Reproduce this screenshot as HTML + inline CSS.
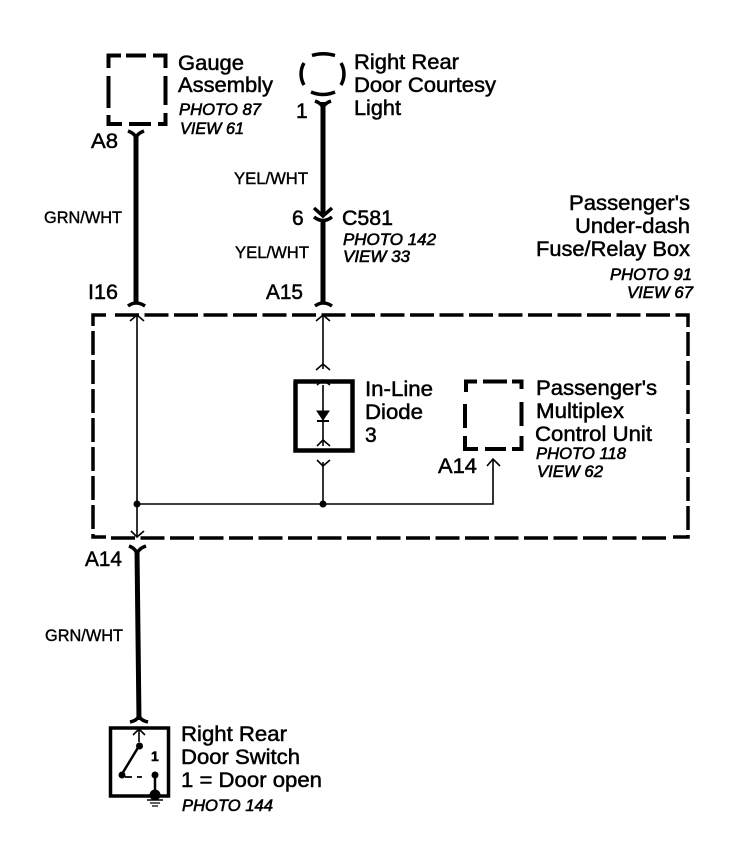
<!DOCTYPE html>
<html><head><meta charset="utf-8"><style>
html,body{margin:0;padding:0;background:#fff}
svg{display:block}
text{font-family:"Liberation Sans",Arial,sans-serif;fill:#000;stroke:#000;stroke-width:.5}
.l{font-size:21px;}
.i{font-size:16.5px;font-style:italic;stroke-width:.6}
.w{font-size:16.5px;stroke-width:.4}
</style></head><body>
<svg width="736" height="842" viewBox="0 0 736 842" xmlns="http://www.w3.org/2000/svg" fill="none" stroke="#000">
<!-- gauge box -->
<g stroke-width="4">
<path d="M121 55.500H108.500V68M108.500 76V108M108.500 115V124H122M129 124H151M158 124H165.500V113M165.500 105V76M165.500 68V55.500H153M146 55.500H126"/>
<path d="M466 392V381.500H477M483 381.500H507M512 381.500H521.500V389M521.500 402V426M521.500 436V449H512M506 449H485M478 449H465V436M465 428V404"/>
<!-- circle -->
<path d="M304 62A22 22 0 0 0 304 84" stroke-width="3.500" transform="translate(0 1)"/>
<path d="M341 62A22 22 0 0 1 341 84" stroke-width="3.500" transform="translate(0 1)"/>
<path d="M312 55.500Q323 52 335 55.500M311 92Q323 97 335 92" stroke-width="3.500"/>
</g>
<!-- outer dashed box -->
<path d="M106 315H93V537H106" stroke-width="3.500" stroke-dasharray="24 5"/>
<path d="M115 315H676" stroke-width="3.500" stroke-dasharray="24 5.500"/>
<path d="M676 315H688V537H673" stroke-width="3.500" stroke-dasharray="24 5"/>
<path d="M111 538H668" stroke-width="3.500" stroke-dasharray="24 5.500"/>
<!-- thick wires -->
<path d="M136 134V302M137 550L139 720M323 102V215M323 220V302" stroke-width="5"/>
<path d="M293.500 381.500H352.500V450.500H295.500V381.500" stroke-width="4.500"/>
<rect x="110.500" y="728" width="58" height="68" stroke-width="3.500"/>
<!-- connectors -->
<g stroke-width="3.500">
<path d="M128 131Q136 134 136 139Q136 134 144 131M315 101Q323 104 323 109Q323 104 331 101"/>
<path d="M128 306Q136 300 145 306M315 306Q323 300 332 306"/>
<path d="M314 208L323 216L332 208M314 217Q323 224 332 217"/>
<path d="M129 546Q137 549 137 556Q137 549 146 546M130 722Q139 720 139 714Q139 720 148 722"/>
</g>
<!-- thin wires -->
<g stroke-width="1.600">
<path d="M137 315V537M323 315V369M323 385V446M323 462V504M137 504H493V459"/>
<path d="M130 321L137 315L144 321M316 321L323 315L330 321M316 370L323 364L330 370M317 385L323 380L330 385M317 446L323 440L330 446M317 460L323 466L330 460M487 466L493 459L500 466M131 531L137 537L144 531M133 735L139 729L145 735"/>
</g>
<circle cx="137" cy="504" r="3.500" fill="#000" stroke="none"/>
<circle cx="323" cy="504" r="3.500" fill="#000" stroke="none"/>
<!-- diode -->
<path d="M317 411H329L323 420Z" fill="#000" stroke="#000"/>
<path d="M317 421H329" stroke-width="2"/>
<!-- switch -->
<path d="M139 730V742" stroke-width="1.600"/>
<path d="M139 746L122 774" stroke-width="2.500"/>
<circle cx="139.500" cy="746" r="3.500" fill="#000" stroke="none"/>
<circle cx="122" cy="775" r="3.500" fill="#000" stroke="none"/>
<path d="M125 777H132M137 777H142" stroke-width="1.800"/>
<circle cx="155" cy="775" r="3.500" fill="#000" stroke="none"/>
<path d="M155 775V795" stroke-width="2.500"/>
<circle cx="155" cy="795" r="5.500" fill="#000" stroke="none"/>
<path d="M147 800H163" stroke-width="1.500"/>
<path d="M150 803H160M152 806H158" stroke-width="1.200"/>
<!-- labels -->
<text class="l" x="178" y="70" textLength="66" lengthAdjust="spacingAndGlyphs">Gauge</text>
<text class="l" x="178" y="92" textLength="95" lengthAdjust="spacingAndGlyphs">Assembly</text>
<text class="i" x="179" y="115" textLength="82" lengthAdjust="spacingAndGlyphs">PHOTO 87</text>
<text class="i" x="180" y="134" textLength="64" lengthAdjust="spacingAndGlyphs">VIEW 61</text>
<text class="l" x="354" y="69" textLength="105" lengthAdjust="spacingAndGlyphs">Right Rear</text>
<text class="l" x="354" y="92" textLength="142" lengthAdjust="spacingAndGlyphs">Door Courtesy</text>
<text class="l" x="354" y="115" textLength="47" lengthAdjust="spacingAndGlyphs">Light</text>
<text class="l" x="296" y="118">1</text>
<text class="l" x="91" y="148" textLength="27" lengthAdjust="spacingAndGlyphs">A8</text>
<text class="w" x="234" y="184" textLength="74" lengthAdjust="spacingAndGlyphs">YEL/WHT</text>
<text class="w" x="44" y="223" textLength="78" lengthAdjust="spacingAndGlyphs">GRN/WHT</text>
<text class="l" x="292" y="225">6</text>
<text class="l" x="342" y="225" textLength="51" lengthAdjust="spacingAndGlyphs">C581</text>
<text class="i" x="343" y="245" textLength="93" lengthAdjust="spacingAndGlyphs">PHOTO 142</text>
<text class="i" x="343" y="262" textLength="67" lengthAdjust="spacingAndGlyphs">VIEW 33</text>
<text class="w" x="235" y="258" textLength="74" lengthAdjust="spacingAndGlyphs">YEL/WHT</text>
<text class="l" x="88" y="299" textLength="30" lengthAdjust="spacingAndGlyphs">I16</text>
<text class="l" x="266" y="299" textLength="37" lengthAdjust="spacingAndGlyphs">A15</text>
<text class="l" x="569" y="210" textLength="121" lengthAdjust="spacingAndGlyphs">Passenger's</text>
<text class="l" x="575" y="233" textLength="115" lengthAdjust="spacingAndGlyphs">Under-dash</text>
<text class="l" x="536" y="256" textLength="154" lengthAdjust="spacingAndGlyphs">Fuse/Relay Box</text>
<text class="i" x="610" y="280" textLength="82" lengthAdjust="spacingAndGlyphs">PHOTO 91</text>
<text class="i" x="627" y="298" textLength="66" lengthAdjust="spacingAndGlyphs">VIEW 67</text>
<text class="l" x="365" y="396" textLength="68" lengthAdjust="spacingAndGlyphs">In-Line</text>
<text class="l" x="365" y="419" textLength="58" lengthAdjust="spacingAndGlyphs">Diode</text>
<text class="l" x="365" y="442">3</text>
<text class="l" x="536" y="395" textLength="121" lengthAdjust="spacingAndGlyphs">Passenger's</text>
<text class="l" x="536" y="418" textLength="88" lengthAdjust="spacingAndGlyphs">Multiplex</text>
<text class="l" x="535" y="441" textLength="117" lengthAdjust="spacingAndGlyphs">Control Unit</text>
<text class="i" x="536" y="459" textLength="90" lengthAdjust="spacingAndGlyphs">PHOTO 118</text>
<text class="i" x="537" y="477" textLength="66" lengthAdjust="spacingAndGlyphs">VIEW 62</text>
<text class="l" x="438" y="473" textLength="39" lengthAdjust="spacingAndGlyphs">A14</text>
<text class="l" x="85" y="566" textLength="37" lengthAdjust="spacingAndGlyphs">A14</text>
<text class="w" x="45" y="641" textLength="78" lengthAdjust="spacingAndGlyphs">GRN/WHT</text>
<text class="l" x="181" y="741" textLength="106" lengthAdjust="spacingAndGlyphs">Right Rear</text>
<text class="l" x="181" y="764" textLength="119" lengthAdjust="spacingAndGlyphs">Door Switch</text>
<text class="l" x="181" y="787" textLength="141" lengthAdjust="spacingAndGlyphs">1 = Door open</text>
<text class="i" x="182" y="811" textLength="91" lengthAdjust="spacingAndGlyphs">PHOTO 144</text>
<text x="151" y="761" font-size="14" font-weight="bold">1</text>
</svg>
</body></html>
